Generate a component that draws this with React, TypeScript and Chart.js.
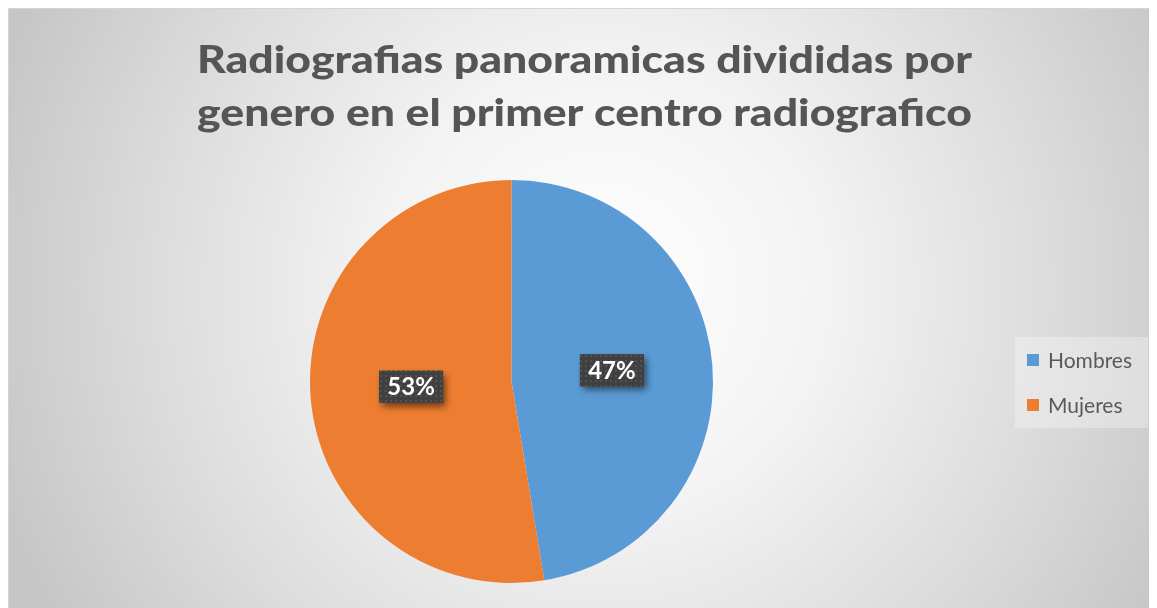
import React, { useEffect, useRef } from "react";
import { Chart, registerables } from "chart.js";

Chart.register(...registerables);

const categories = ["Hombres", "Mujeres"];
const values = [47.4, 52.6];
const colors = ["#5B9BD5", "#ED7D31"];
const titleLines = [
  "Radiografias panoramicas divididas por",
  "genero en el primer centro radiografico",
];

const W = 1149;
const H = 600;
const TITLE_FONT = "900 37px Lato";

function makeDotPattern(ctx: CanvasRenderingContext2D) {
  const c = document.createElement("canvas");
  c.width = 5;
  c.height = 5;
  const p = c.getContext("2d")!;
  p.fillStyle = "#404040";
  p.fillRect(0, 0, 5, 5);
  p.fillStyle = "#525252";
  p.fillRect(2, 2, 2, 2);
  return ctx.createPattern(c, "repeat");
}

const backgroundPlugin = {
  id: "bgPlugin",
  beforeDraw(chart: any) {
    const { ctx, width, height } = chart;
    ctx.save();
    const g = ctx.createRadialGradient(width / 2 + 20, height / 2 - 20, 0, width / 2 + 20, height / 2 - 20, 640);
    g.addColorStop(0, "#ffffff");
    g.addColorStop(0.35, "#f3f3f3");
    g.addColorStop(0.7, "#dcdcdc");
    g.addColorStop(1, "#c6c6c6");
    ctx.fillStyle = g;
    ctx.fillRect(0, 0, width, height);
    ctx.strokeStyle = "#d4d4d4";
    ctx.lineWidth = 1;
    ctx.beginPath();
    ctx.moveTo(0.5, height);
    ctx.lineTo(0.5, 0.5);
    ctx.lineTo(width, 0.5);
    ctx.stroke();

    // title
    ctx.fillStyle = "#555555";
    ctx.textAlign = "center";
    ctx.textBaseline = "alphabetic";
    ctx.font = TITLE_FONT;
    const w0 = ctx.measureText(titleLines[0]).width;
    const sx = w0 > 0 ? 775 / w0 : 1;
    ctx.save();
    ctx.translate(576.5, 0);
    ctx.scale(sx, 1);
    ctx.fillText(titleLines[0], 0, 65);
    ctx.fillText(titleLines[1], 0, 118);
    ctx.restore();

    // legend
    ctx.fillStyle = "rgba(255,255,255,0.3)";
    ctx.fillRect(1007, 329, 133, 91);
    ctx.font = "21px Lato";
    ctx.textAlign = "left";
    ctx.textBaseline = "middle";
    categories.forEach((name, i) => {
      const cy = 352 + i * 45;
      ctx.fillStyle = colors[i];
      ctx.fillRect(1019, cy - 6, 12, 12);
      ctx.fillStyle = "#595959";
      ctx.fillText(name, 1040, cy + 1);
    });
    ctx.restore();
  },
};

const labelPlugin = {
  id: "labelPlugin",
  afterDatasetsDraw(chart: any) {
    const { ctx } = chart;
    const meta = chart.getDatasetMeta(0);
    const data = chart.data.datasets[0].data as number[];
    const total = data.reduce((a, b) => a + b, 0);
    const pattern = makeDotPattern(ctx);
    meta.data.forEach((arc: any, i: number) => {
      const { x, y } = arc.tooltipPosition();
      const text = Math.round((data[i] / total) * 100) + "%";
      const bw = 64;
      const bh = 32;
      const cy = y - 3;
      ctx.save();
      ctx.shadowColor = "rgba(0,0,0,0.55)";
      ctx.shadowBlur = 7;
      ctx.shadowOffsetX = 3;
      ctx.shadowOffsetY = 4;
      ctx.fillStyle = "#404040";
      ctx.fillRect(x - bw / 2, cy - bh / 2, bw, bh);
      ctx.restore();
      ctx.save();
      ctx.fillStyle = pattern || "#404040";
      ctx.fillRect(x - bw / 2, cy - bh / 2, bw, bh);
      ctx.fillStyle = "#ffffff";
      ctx.font = "bold 24px Lato";
      ctx.textAlign = "center";
      ctx.textBaseline = "middle";
      ctx.fillText(text, x, cy + 1);
      ctx.restore();
    });
  },
};

export default function App() {
  const ref = useRef<HTMLCanvasElement | null>(null);
  useEffect(() => {
    document.body.style.overflow = "hidden";
    document.documentElement.style.overflow = "hidden";
    let chart: Chart | null = null;
    let cancelled = false;
    const build = () => {
      if (cancelled || !ref.current) return;
      chart = new Chart(ref.current, {
        type: "pie",
        data: {
          labels: categories,
          datasets: [
            {
              data: values,
              backgroundColor: colors,
              borderWidth: 0,
            },
          ],
        },
        options: {
          responsive: false,
          animation: false,
          layout: { padding: { left: 302, right: 444, top: 172, bottom: 25 } },
          plugins: {
            legend: { display: false },
            title: { display: false },
            tooltip: { enabled: false },
          },
        },
        plugins: [backgroundPlugin, labelPlugin],
      });
    };
    const fonts: any = (document as any).fonts;
    if (fonts && fonts.load) {
      Promise.all([
        fonts.load(TITLE_FONT),
        fonts.load("bold 24px Lato"),
        fonts.load("21px Lato"),
      ])
        .catch(() => null)
        .then(build);
    } else {
      build();
    }
    return () => {
      cancelled = true;
      if (chart) chart.destroy();
    };
  }, []);
  return (
    <div style={{ width: W, height: H }}>
      <canvas ref={ref} width={W} height={H} style={{ display: "block" }} />
    </div>
  );
}
